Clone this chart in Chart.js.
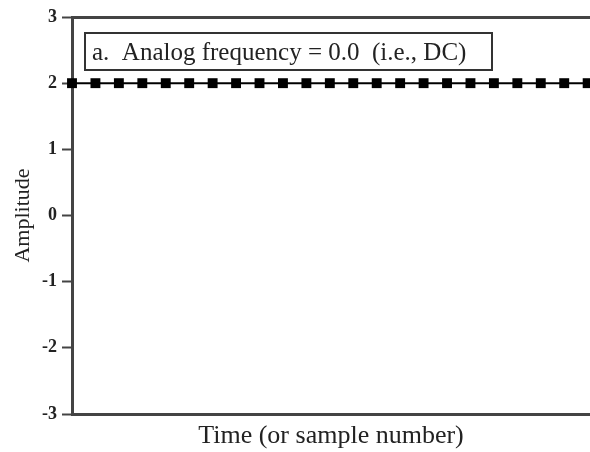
<!DOCTYPE html>
<html>
<head>
<meta charset="utf-8">
<script src="https://cdn.jsdelivr.net/npm/chart.js@4/dist/chart.umd.min.js"></script>
<style>
  html, body { margin: 0; padding: 0; background: #fff; overflow: hidden; }
  #wrap { position: relative; width: 590px; height: 452px; }
</style>
</head>
<body>
<div id="wrap"><canvas id="chart"></canvas></div>
<script>
// ─── DATOS ──────────────────────────────────────────────────────
const SAMPLES   = [0, 1, 2, 3, 4, 5, 6, 7, 8, 9, 10, 11, 12, 13, 14, 15, 16, 17, 18, 19, 20, 21, 22];
const AMPLITUDE = [2, 2, 2, 2, 2, 2, 2, 2, 2, 2, 2, 2, 2, 2, 2, 2, 2, 2, 2, 2, 2, 2, 2];
const Y_TICKS   = [-3, -2, -1, 0, 1, 2, 3];
const BOX_LABEL = "a.  Analog frequency = 0.0  (i.e., DC)";
const X_TITLE   = "Time (or sample number)";
const Y_TITLE   = "Amplitude";

const SERIF = "'Liberation Serif', 'DejaVu Serif', serif";
const INK = "#222";
const AXIS = "#444";

// caja con el rótulo dentro del área del gráfico
const labelBox = {
  id: "labelBox",
  afterDraw(chart) {
    const ctx = chart.ctx;
    ctx.save();
    ctx.strokeStyle = "#333";
    ctx.lineWidth = 2;
    ctx.strokeRect(85, 33, 407, 37);
    ctx.fillStyle = INK;
    ctx.font = "25px " + SERIF;
    ctx.textBaseline = "middle";
    ctx.fillText(BOX_LABEL, 92, 53);
    ctx.restore();
  },
};

new Chart(document.getElementById("chart"), {
  type: "line",
  data: {
    datasets: [{
      data: SAMPLES.map((x, i) => ({ x, y: AMPLITUDE[i] })),
      borderColor: "#000",
      borderWidth: 2,
      pointStyle: "rect",
      pointRadius: 7,
      pointBorderWidth: 0,
      pointBackgroundColor: "#000",
      clip: false,
    }],
  },
  options: {
    responsive: true,
    maintainAspectRatio: false,
    animation: false,
    layout: { padding: 0, autoPadding: false },
    plugins: { legend: { display: false }, tooltip: { enabled: false } },
    scales: {
      x: {
        type: "linear",
        position: "bottom",
        min: 0,
        max: 22.1,
        afterFit(s) { s.height = 38; },
        grid: { display: false },
        ticks: { display: false },
        border: { display: true, color: AXIS, width: 3 },
        title: {
          display: true,
          text: X_TITLE,
          color: INK,
          font: { family: SERIF, size: 26 },
          padding: { top: 0, bottom: 0 },
        },
      },
      xTop: {
        type: "linear",
        position: "top",
        afterFit(s) { s.height = 17; },
        grid: { display: false },
        ticks: { display: false },
        border: { display: true, color: AXIS, width: 3 },
      },
      y: {
        min: -3,
        max: 3,
        afterFit(s) { s.width = 72; },
        afterBuildTicks(s) { s.ticks = Y_TICKS.map(v => ({ value: v })); },
        grid: { drawOnChartArea: false, drawTicks: true, tickLength: 10, tickWidth: 2, tickColor: AXIS },
        border: { display: true, color: AXIS, width: 3 },
        ticks: {
          color: INK,
          padding: 5,
          font: { family: SERIF, size: 18, weight: "bold" },
        },
        title: {
          display: true,
          text: Y_TITLE,
          color: INK,
          font: { family: SERIF, size: 22 },
          padding: { top: 10, bottom: 0 },
        },
      },
    },
  },
  plugins: [labelBox],
});
</script>
</body>
</html>
